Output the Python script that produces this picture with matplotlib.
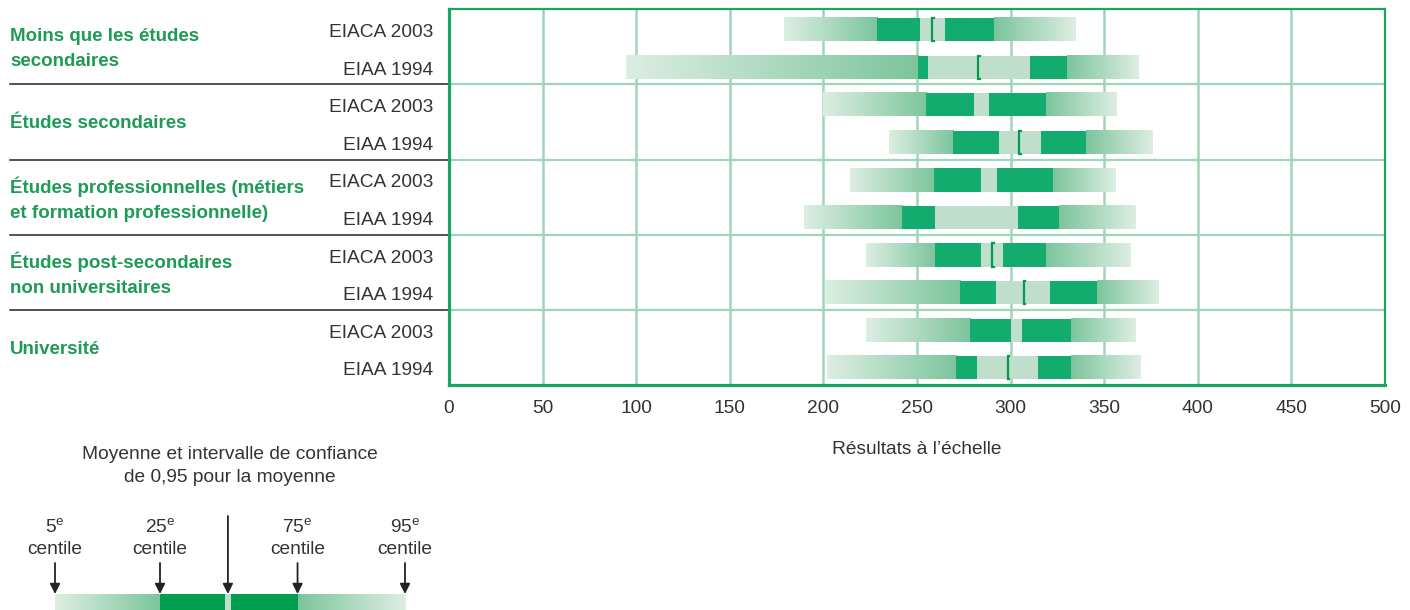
import matplotlib.pyplot as plt
import numpy as np
from matplotlib.colors import LinearSegmentedColormap
from matplotlib import transforms

plt.rcParams['font.family'] = ['Liberation Sans', 'DejaVu Sans']
plt.rcParams['mathtext.fontset'] = 'custom'
plt.rcParams['mathtext.rm'] = 'Liberation Sans'

# Data
groups = ['Moins que les études\nsecondaires',
          'Études secondaires',
          'Études professionnelles (métiers\net formation professionnelle)',
          'Études post-secondaires\nnon universitaires',
          'Université']
surveys = ['EIACA 2003', 'EIAA 1994']

p5 = [178.8, 94.6, 199.6, 235.0, 214.1, 189.5, 222.7, 200.7, 222.7, 201.7]
p25 = [228.6, 250.6, 254.9, 269.3, 259.2, 242.0, 259.7, 273.1, 278.5, 271.0]
ci_lo = [251.6, 256.0, 280.6, 294.0, 284.4, 259.7, 284.4, 292.4, 300.4, 282.2]
ci_hi = [265.0, 310.6, 288.7, 316.2, 293.0, 304.2, 296.1, 321.1, 306.3, 314.4]
p75 = [291.3, 330.2, 318.7, 340.1, 322.9, 326.0, 318.7, 346.2, 332.5, 332.5]
p95 = [334.7, 368.5, 356.2, 375.5, 356.2, 367.0, 363.6, 379.2, 367.0, 369.5]
means = [258.1, 282.7, None, 304.5, None, None, 290.3, 306.9, None, 298.6]

# legend schematic (percent of the legend bar)
leg_p5, leg_p25, leg_lo, leg_mean, leg_hi, leg_p75, leg_p95 = 0, 30, 48.6, 49.4, 50.3, 69.3, 100
leg_labels = ['5$^{\\mathrm{e}}$\ncentile', '25$^{\\mathrm{e}}$\ncentile', None,
              '75$^{\\mathrm{e}}$\ncentile', '95$^{\\mathrm{e}}$\ncentile']

# Colours
dark = '#14AB6F'
ci_col = '#BFDFCC'
grad = LinearSegmentedColormap.from_list('g', ['#DDEEE3', '#7CC59C'])
grid_col = '#A0D5B8'
frame_col = '#1AA565'
mark_col = '#07994F'
label_green = '#1E9B55'
text_col = '#333333'
leg_dark = '#009E4F'

fig = plt.figure(figsize=(14.1, 6.1), dpi=100)
ax = fig.add_axes([449/1410, 1 - 385/610, 936/1410, 375.7/610])

g_ramp = np.linspace(0, 1, 256)[None, :]
h = 0.62
for i in range(len(p5)):
    c = i + 0.54
    ax.imshow(g_ramp, cmap=grad, extent=(p5[i], p25[i], c + h/2, c - h/2),
              aspect='auto', interpolation='nearest', zorder=2)
    ax.barh(c, ci_lo[i] - p25[i], left=p25[i], height=h, color=dark, zorder=2)
    ax.barh(c, ci_hi[i] - ci_lo[i], left=ci_lo[i], height=h, color=ci_col, zorder=2)
    ax.barh(c, p75[i] - ci_hi[i], left=ci_hi[i], height=h, color=dark, zorder=2)
    ax.imshow(g_ramp[:, ::-1], cmap=grad, extent=(p75[i], p95[i], c + h/2, c - h/2),
              aspect='auto', interpolation='nearest', zorder=2)
    if means[i] is not None:
        m = means[i]
        ax.plot([m + 0.8, m, m, m + 0.8], [c - h/2, c - h/2, c + h/2, c + h/2],
                color=mark_col, lw=1.6, solid_joinstyle='miter', zorder=3)

ax.set_xlim(0, 500)
ax.set_ylim(10, 0)
ax.set_xticks(range(0, 501, 50))
ax.set_yticks([])
ax.grid(axis='x', color=grid_col, lw=1.8)
ax.set_axisbelow(True)
for y in [2, 4, 6, 8]:
    ax.axhline(y, color=grid_col, lw=1.6, zorder=1)
ax.tick_params(axis='x', length=0, pad=11, labelsize=13.8, labelcolor=text_col)
for s in ax.spines.values():
    s.set_color(frame_col)
ax.spines['left'].set_linewidth(2.3)
ax.spines['bottom'].set_linewidth(2.3)
ax.spines['top'].set_linewidth(1.6)
ax.spines['right'].set_linewidth(1.6)

# left-hand labels
trans = transforms.blended_transform_factory(fig.transFigure, ax.transData)
for y in [2, 4, 6, 8]:
    ax.plot([10/1410, 449/1410], [y, y], transform=trans, clip_on=False,
            color='#222222', lw=1.1)
for i in range(len(p5)):
    ax.text(433/1410, i + 0.62, surveys[i % 2], transform=trans, ha='right',
            va='center', fontsize=13.8, color=text_col)
for g, name in enumerate(groups):
    ax.text(10/1410, 2*g + 1.05, name, transform=trans, ha='left', va='center',
            fontsize=13.5, fontweight='bold', color=label_green, linespacing=1.6)

fig.text(917/1410, 1 - 449/610, 'Résultats à l’échelle', ha='center', va='center',
         fontsize=13.8, color=text_col)

# legend
fig.text(230/1410, 1 - 466/610, 'Moyenne et intervalle de confiance\nde 0,95 pour la moyenne',
         ha='center', va='center', fontsize=13.8, color=text_col, linespacing=1.5)

lax = fig.add_axes([55/1410, 0, 350/1410, 130/610])
lax.imshow(g_ramp, cmap=grad, extent=(leg_p5, leg_p25, 0, 16), aspect='auto', zorder=2)
lax.barh(8, leg_lo - leg_p25, left=leg_p25, height=16, color=leg_dark)
lax.barh(8, leg_hi - leg_lo, left=leg_lo, height=16, color=ci_col)
lax.barh(8, leg_p75 - leg_hi, left=leg_hi, height=16, color=leg_dark)
lax.imshow(g_ramp[:, ::-1], cmap=grad, extent=(leg_p75, leg_p95, 0, 16), aspect='auto', zorder=2)
lax.set_xlim(0, 100)
lax.set_ylim(0, 130)
lax.axis('off')

for xv, lab in zip([leg_p5, leg_p25, leg_mean, leg_p75, leg_p95], leg_labels):
    top = 94 if lab is None else 47
    lax.annotate('', xy=(xv, 16), xytext=(xv, top),
                 arrowprops=dict(arrowstyle='-|>', color='#222222', lw=1.3,
                                 mutation_scale=15, shrinkA=0, shrinkB=0),
                 annotation_clip=False)
    if lab is not None:
        lax.text(xv, 72, lab, ha='center', va='center', fontsize=13.8,
                 color=text_col, linespacing=1.35, clip_on=False)

fig.savefig('out.png', dpi=100)
